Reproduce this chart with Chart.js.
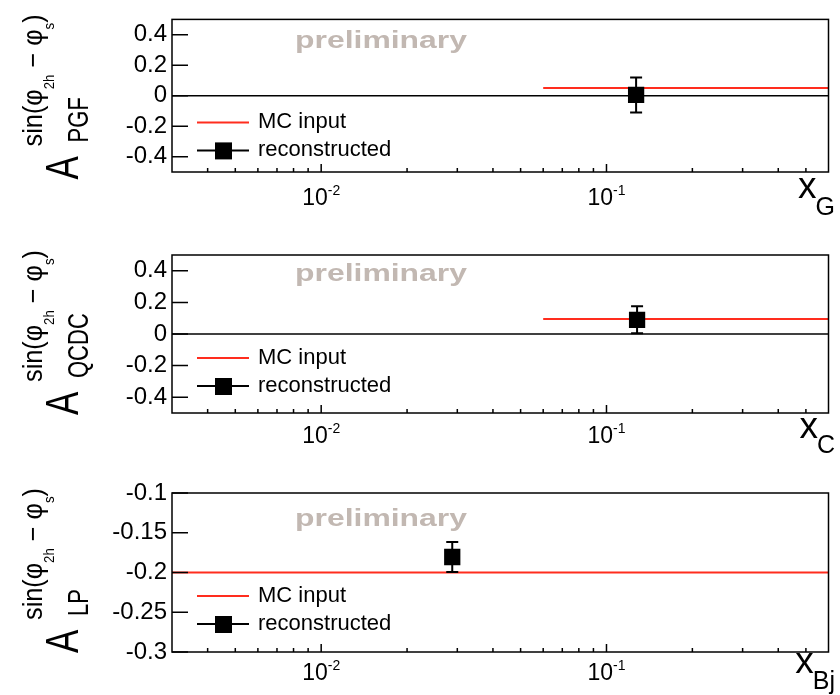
<!DOCTYPE html>
<html>
<head>
<meta charset="utf-8">
<script src="https://cdn.jsdelivr.net/npm/chart.js@4/dist/chart.umd.min.js"></script>
<style>
  html, body { margin: 0; padding: 0; background: #fff; }
  #wrap { position: relative; width: 840px; height: 695px; }
  canvas { position: absolute; left: 0; }
</style>
</head>
<body>
<div id="wrap">
  <canvas id="c0" width="840" height="230" style="top:0px"></canvas>
  <canvas id="c1" width="840" height="230" style="top:230px"></canvas>
  <canvas id="c2" width="840" height="235" style="top:460px"></canvas>
</div>
<script>
// values
const processes = ['PGF', 'QCDC', 'LP'];
const xVariables = ['G', 'C', 'Bj'];
const xReco = [0.127, 0.128, 0.0288];
const yReco = [0.005, 0.09, -0.1805];
const yRecoErr = [0.115, 0.085, 0.019];
const mcInput = [0.05, 0.095, -0.2];
const mcFrom = [0.06, 0.06, 0.003];
const xRange = [0.003, 0.6];
const yMin = [-0.5, -0.5, -0.3];
const yMax = [0.5, 0.5, -0.1];
const yTicksAsym = [-0.4, -0.2, 0, 0.2, 0.4];
const yTicksLP = [-0.3, -0.25, -0.2, -0.15, -0.1];
const xMajor = [0.01, 0.1];
const xMinor = [0.004, 0.005, 0.006, 0.007, 0.008, 0.009, 0.02, 0.03, 0.04, 0.05, 0.06, 0.07, 0.08, 0.09, 0.2, 0.3, 0.4, 0.5];

// page layout (pixels)
const heights = [230, 230, 235];
const tops = [15, 25, 33];
const bottoms = [172, 183, 192];
const prelimOffset = [29, 26, 33];
const tickLabelOffset = [33, 30, 28];
const xTitleOffset = [[26, 43], [25, 40], [21, 37]];

const FONT = '"Liberation Sans", Arial, Helvetica, sans-serif';
const RED = '#ff2d1e';

function put(ctx, txt, u, v, size, sx, sy) {
  ctx.save();
  ctx.translate(u, v);
  ctx.scale(sx || 1, sy || 1);
  ctx.font = size + 'px ' + FONT;
  ctx.fillText(txt, 0, 0);
  ctx.restore();
}

function drawYTitle(ctx, top, sub) {
  ctx.save();
  ctx.translate(0, top + 160);
  ctx.rotate(-Math.PI / 2);
  ctx.fillStyle = '#000';
  ctx.textBaseline = 'alphabetic';
  ctx.textAlign = 'left';
  put(ctx, 'A', 0, 78, 35, 1, 1.3);
  put(ctx, sub, 37, 88, 22, 1, 1.3);
  // sin(phi_2h - phi_s)
  const parts = [['sin(', 21, 42], ['φ', 21, 42], ['2h', 11, 54], [' − ', 21, 42], ['φ', 21, 42], ['s', 11, 54], [')', 21, 42]];
  let total = 0;
  parts.forEach(p => { ctx.font = p[1] + 'px ' + FONT; total += ctx.measureText(p[0]).width; });
  const sx = 132 / total;
  let u = 33;
  parts.forEach(p => {
    ctx.font = p[1] + 'px ' + FONT;
    const w = ctx.measureText(p[0]).width;
    put(ctx, p[0], u, p[2], p[1], sx, 1.3);
    u += w * sx;
  });
  ctx.restore();
}

function makePlugin(i) {
  return {
    id: 'rootStyle' + i,
    afterDatasetsDraw(chart) {
      const ctx = chart.ctx;
      const xs = chart.scales.x, ys = chart.scales.y;
      const px = xs.getPixelForValue(xReco[i]);
      const y1 = ys.getPixelForValue(yReco[i] + yRecoErr[i]);
      const y2 = ys.getPixelForValue(yReco[i] - yRecoErr[i]);
      ctx.save();
      ctx.strokeStyle = '#000';
      ctx.lineWidth = 2;
      ctx.beginPath();
      ctx.moveTo(px, y1); ctx.lineTo(px, y2);
      ctx.moveTo(px - 6, y1); ctx.lineTo(px + 6, y1);
      ctx.moveTo(px - 6, y2); ctx.lineTo(px + 6, y2);
      ctx.stroke();
      ctx.restore();
    },
    afterDraw(chart) {
      const ctx = chart.ctx;
      const a = chart.chartArea;
      const xs = chart.scales.x, ys = chart.scales.y;
      ctx.save();
      ctx.strokeStyle = '#000';
      ctx.lineWidth = 1.5;
      ctx.strokeRect(a.left, a.top, a.right - a.left, a.bottom - a.top);
      // inward ticks
      ctx.beginPath();
      ys.ticks.forEach(t => {
        const py = ys.getPixelForValue(t.value);
        ctx.moveTo(a.left, py); ctx.lineTo(a.left + 16, py);
      });
      xs.ticks.forEach(t => {
        const p = xs.getPixelForValue(t.value);
        const len = xMajor.includes(t.value) ? 8 : 4;
        ctx.moveTo(p, a.bottom); ctx.lineTo(p, a.bottom - len);
      });
      ctx.stroke();

      // x tick labels 10^n
      ctx.fillStyle = '#000';
      ctx.textBaseline = 'alphabetic';
      ctx.textAlign = 'left';
      xMajor.forEach(v => {
        const p = xs.getPixelForValue(v);
        const ex = String(Math.round(Math.log10(v)));
        ctx.font = '23px ' + FONT;
        const w1 = ctx.measureText('10').width;
        ctx.font = '14px ' + FONT;
        const w2 = ctx.measureText(ex).width;
        const x0 = p - (w1 + w2) / 2;
        const base = a.bottom + tickLabelOffset[i];
        put(ctx, '10', x0, base, 23);
        put(ctx, ex, x0 + w1, base - 10, 14);
      });

      // x axis title
      ctx.font = '25px ' + FONT;
      const ws = ctx.measureText(xVariables[i]).width;
      const subLeft = 835 - ws;
      ctx.font = '37px ' + FONT;
      const wx = ctx.measureText('x').width;
      put(ctx, 'x', subLeft - wx + 1, a.bottom + xTitleOffset[i][0], 37);
      put(ctx, xVariables[i], subLeft, a.bottom + xTitleOffset[i][1], 25);

      // preliminary
      ctx.fillStyle = '#c2b8b2';
      ctx.font = 'bold 23px ' + FONT;
      const wp = ctx.measureText('preliminary').width;
      ctx.save();
      ctx.translate(295, a.top + prelimOffset[i]);
      ctx.scale(172 / wp, 1);
      ctx.fillText('preliminary', 0, 0);
      ctx.restore();

      // legend
      const r1 = a.top + 103, r2 = a.top + 131;
      const lx = a.left + 25;
      ctx.lineWidth = 2;
      ctx.strokeStyle = RED;
      ctx.beginPath(); ctx.moveTo(lx, r1); ctx.lineTo(lx + 52, r1); ctx.stroke();
      ctx.strokeStyle = '#000';
      ctx.beginPath(); ctx.moveTo(lx, r2); ctx.lineTo(lx + 52, r2); ctx.stroke();
      ctx.fillStyle = '#000';
      ctx.fillRect(lx + 26 - 8, r2 - 8, 17, 17);
      ctx.textBaseline = 'middle';
      ctx.font = '22px ' + FONT;
      ctx.fillText('MC input', lx + 61, r1);
      ctx.fillText('reconstructed', lx + 61, r2);

      drawYTitle(ctx, a.top, processes[i]);
      ctx.restore();
    }
  };
}

processes.forEach((proc, i) => {
  const yTicks = i < 2 ? yTicksAsym : yTicksLP;
  const datasets = [
    {
      label: 'reconstructed',
      data: [{ x: xReco[i], y: yReco[i] }],
      pointStyle: 'rect',
      pointRadius: 11.5,
      backgroundColor: '#000',
      borderWidth: 0,
      order: 0
    },
    {
      label: 'MC input',
      data: [{ x: mcFrom[i], y: mcInput[i] }, { x: xRange[1], y: mcInput[i] }],
      showLine: true,
      borderColor: RED,
      borderWidth: 2,
      pointRadius: 0,
      order: 1
    }
  ];
  if (yMin[i] < 0 && yMax[i] > 0) {
    datasets.push({
      label: 'zero',
      data: [{ x: xRange[0], y: 0 }, { x: xRange[1], y: 0 }],
      showLine: true,
      borderColor: '#000',
      borderWidth: 1.5,
      pointRadius: 0,
      order: 2
    });
  }

  new Chart(document.getElementById('c' + i), {
    type: 'scatter',
    data: { datasets },
    options: {
      responsive: false,
      animation: false,
      layout: { padding: { top: tops[i], right: 4, left: 0, bottom: 0 } },
      plugins: { legend: { display: false }, tooltip: { enabled: false } },
      scales: {
        x: {
          type: 'logarithmic',
          min: xRange[0],
          max: xRange[1],
          grid: { display: false, drawTicks: false },
          border: { display: false },
          ticks: { display: false },
          afterBuildTicks: s => {
            s.ticks = xMajor.concat(xMinor).sort((a, b) => a - b).map(v => ({ value: v }));
          },
          afterFit: s => { s.height = heights[i] - bottoms[i]; }
        },
        y: {
          min: yMin[i],
          max: yMax[i],
          grid: { display: false, drawTicks: false },
          border: { display: false },
          ticks: {
            color: '#000',
            padding: 5,
            font: { family: FONT, size: 24 },
            callback: v => String(+Number(v).toFixed(2))
          },
          afterBuildTicks: s => { s.ticks = yTicks.map(v => ({ value: v })); },
          afterFit: s => { s.width = 172; }
        }
      }
    },
    plugins: [makePlugin(i)]
  });
});
</script>
</body>
</html>
